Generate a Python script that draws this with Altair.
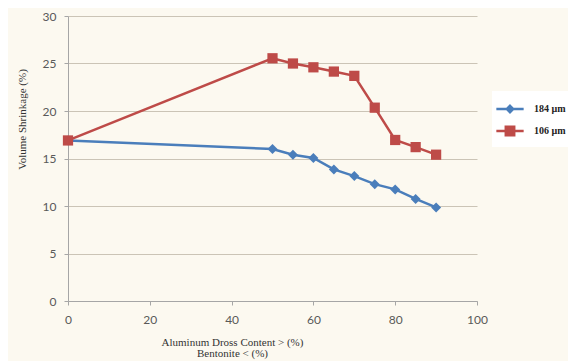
import altair as alt
import pandas as pd

content = [0, 50, 55, 60, 65, 70, 75, 80, 85, 90]
shrink_184 = [16.9, 16.0, 15.4, 15.05, 13.85, 13.15, 12.3, 11.75, 10.75, 9.85]
shrink_106 = [16.9, 25.55, 25.0, 24.6, 24.15, 23.7, 20.35, 16.95, 16.2, 15.4]
series = ["184 µm", "106 µm"]
colors = ["#4A7EBB", "#BE4B48"]
x_ticks = [0, 20, 40, 60, 80, 100]
y_ticks = [0, 5, 10, 15, 20, 25, 30]

rows = []
for name, vals in zip(series, [shrink_184, shrink_106]):
    for i, (c, v) in enumerate(zip(content, vals)):
        rows.append({"series": name, "content": c, "shrink": v, "order": i})
df = pd.DataFrame(rows)

color_scale = alt.Scale(domain=series, range=colors)
x_enc = alt.X("content:Q",
              scale=alt.Scale(domain=[0, 100]),
              axis=alt.Axis(values=x_ticks, grid=False, tickSize=4,
                            labelPadding=9, labelFlush=False,
                            title=["Aluminum Dross Content > (%)", "Bentonite < (%)"],
                            titleX=164, titleY=35, titleAnchor="middle",
                            titleAlign="center", titleBaseline="top",
                            titleLineHeight=11))
y_enc = alt.Y("shrink:Q",
              scale=alt.Scale(domain=[0, 30]),
              axis=alt.Axis(values=y_ticks, grid=True, tickSize=4,
                            labelPadding=8, labelFlush=False,
                            title="Volume Shrinkage (%)",
                            titleX=-46, titleY=103, titleAlign="center",
                            titleBaseline="middle", titleAngle=270))

base = alt.Chart(df)

lines = base.mark_line(strokeWidth=2.5).encode(
    x=x_enc, y=y_enc,
    color=alt.Color("series:N", scale=color_scale, legend=None),
    detail="series:N",
    order="order:Q",
)

points = base.mark_point(filled=True, opacity=1).encode(
    x=x_enc, y=y_enc,
    color=alt.Color("series:N", scale=color_scale, legend=None),
    shape=alt.Shape("series:N", scale=alt.Scale(domain=series, range=["diamond", "square"]), legend=None),
    size=alt.Size("series:N", scale=alt.Scale(domain=series, range=[100, 105]), legend=None),
)

legend_paths = [
    "M-1.3,0H1.3M0,-0.3L0.3,0L0,0.3L-0.3,0Z",
    "M-1.3,0H1.3M-0.4,-0.4H0.4V0.4H-0.4Z",
]

leg = alt.Legend(
    title=None, orient="none", legendX=424, legendY=75,
    labelFont="Liberation Serif", labelFontSize=10, labelFontWeight="bold",
    labelColor="#222222", labelOffset=12, symbolSize=441,
    rowPadding=1, padding=6, fillColor="#FFFFFF",
    symbolStrokeWidth=2.5, symbolOpacity=1,
)

legend_layer = base.transform_filter("false").mark_point(
    filled=True, opacity=1, strokeWidth=2.5, size=441
).encode(
    x=x_enc, y=y_enc,
    color=alt.Color("series:N", scale=alt.Scale(domain=series, range=colors), legend=leg),
    stroke=alt.Stroke("series:N", scale=alt.Scale(domain=series, range=colors), legend=leg),
    shape=alt.Shape("series:N", scale=alt.Scale(domain=series, range=legend_paths), legend=leg),
)

chart = alt.layer(lines, points, legend_layer).resolve_scale(
    color="independent", stroke="independent",
    shape="independent", size="independent"
).properties(
    width=409, height=285,
    autosize=alt.AutoSizeParams(type="none"),
    padding={"left": 60, "top": 8, "right": 91, "bottom": 60},
    background="#FCF9F0",
).configure_view(
    stroke=None, fill="#FCF9F0"
).configure_axis(
    labelFont="Lato", labelFontSize=12, labelColor="#595959",
    titleFont="Liberation Serif", titleFontSize=11, titleFontWeight="normal",
    titleColor="#333333",
    domainColor="#A6A6A6", tickColor="#A6A6A6", gridColor="#CBC4B6",
    domainWidth=1, gridWidth=1,
)

chart.save("out.html", embed_options={"renderer": "svg", "actions": False})
